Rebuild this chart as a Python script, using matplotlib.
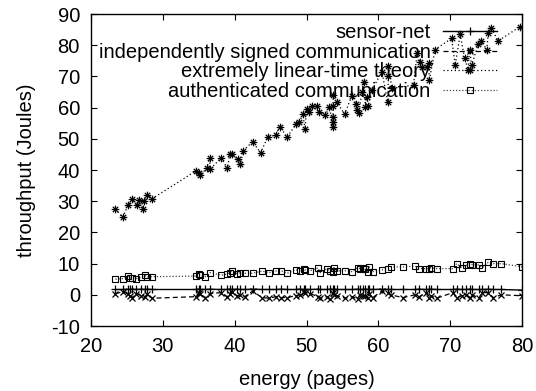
import matplotlib
matplotlib.use("Agg")
import matplotlib.pyplot as plt
from matplotlib.path import Path

plt.rcParams['font.family'] = ['Liberation Sans', 'DejaVu Sans']
plt.rcParams['font.size'] = 14.5
plt.rcParams['axes.unicode_minus'] = False

# ---- data ----
low_x = [23.4, 24.5, 25.2, 25.4, 25.7, 26.3, 27.0, 27.5, 27.8, 28.5,
         34.6, 35.0, 35.2, 35.9, 36.6, 38.1, 38.9, 39.3, 39.6, 40.3, 40.8, 41.4,
         42.5, 43.8, 44.8, 45.7, 46.5, 47.3, 48.5, 49.1, 49.6, 49.8,
         50.5, 51.6, 51.9, 52.8, 53.3, 53.7, 53.8, 54.3, 55.4, 56.4,
         57.1, 57.4, 57.8, 58.1, 58.5, 58.7, 59.2, 60.5, 61.4, 61.7,
         63.4, 65.1, 65.7, 66.7, 67.1, 67.3, 68.1, 70.4, 70.9, 71.6,
         72.2, 72.8, 73.1, 74.0, 74.5, 75.3, 76.0, 77.1, 80.0]

sensor_net = [1.7, 1.7, 1.8, 1.7, 1.8, 1.7, 1.8, 1.7, 1.8, 1.7,
              1.7, 1.8, 1.7, 1.7, 1.8, 1.7, 1.7, 1.8, 1.7, 1.8, 1.7, 1.7,
              1.8, 1.7, 1.7, 1.7, 1.8, 1.7, 1.7, 1.8, 1.7, 1.7,
              1.7, 1.8, 1.7, 1.7, 1.8, 1.7, 1.8, 1.7, 1.7, 1.7,
              1.8, 1.7, 1.7, 1.8, 1.7, 1.7, 1.7, 1.8, 1.7, 1.7,
              1.7, 1.7, 1.8, 1.7, 1.7, 1.8, 1.7, 1.7, 1.8, 1.7,
              1.7, 1.8, 1.7, 1.7, 1.7, 1.8, 1.7, 1.7, 1.5]

indep_signed = [0.4, 1.0, 0.2, -0.3, -0.9, 0.4, -0.3, -0.8, 0.2, -1.1,
                -0.6, 0.7, 0.2, -0.9, 0.4, 0.7, -0.6, 0.4, 1.0, -0.3, 0.0, -0.6,
                1.2, -0.9, -1.1, -0.6, -0.9, -0.9, -0.3, 0.0, 1.0, 0.7,
                0.4, -0.6, -1.1, -0.6, -1.4, 0.7, 0.0, -0.3, -1.1, -0.6,
                -1.4, 0.0, -0.3, -0.3, -1.1, 0.4, -0.9, 1.2, 0.7, 0.0,
                -0.9, 0.0, -0.6, 0.7, -0.9, -0.3, -1.1, 0.7, -0.9, -0.3,
                0.0, -0.9, 0.0, -1.1, 0.7, 0.7, -0.9, 0.0, -0.3]

auth_comm = [5.0, 5.2, 5.9, 5.4, 5.4, 5.2, 5.6, 6.2, 5.7, 5.8,
             6.0, 6.8, 6.2, 5.8, 7.1, 6.3, 6.6, 7.1, 7.7, 6.8, 7.1, 6.9,
             6.9, 7.6, 7.1, 7.6, 7.7, 6.9, 8.0, 7.7, 8.3, 7.9,
             7.7, 8.6, 7.1, 8.3, 7.7, 7.4, 8.7, 7.7, 7.7, 7.4,
             8.7, 8.4, 8.7, 8.3, 7.4, 9.0, 7.4, 8.0, 8.4, 9.0,
             8.9, 9.2, 8.4, 8.4, 8.3, 8.7, 8.4, 8.4, 10.0, 8.7,
             9.4, 10.0, 9.6, 9.6, 8.7, 10.4, 10.0, 10.0, 9.0]

theory_x = [23.4, 24.4, 25.2, 25.7, 26.4, 26.7, 27.2, 27.4, 27.8, 28.5,
            34.6, 35.1, 35.2, 36.1, 36.5, 36.6, 38.1, 39.0, 39.3, 39.6,
            40.4, 40.8, 41.2, 42.5, 43.6, 44.6, 45.7, 46.3, 47.3, 48.5,
            49.0, 49.5, 49.8, 50.0, 50.4, 50.8, 51.5, 51.8, 52.6, 53.2,
            53.7, 53.7, 53.7, 53.7, 53.7, 54.2, 55.3, 56.3, 56.9, 57.0,
            57.3, 57.7, 58.0, 58.2, 58.4, 58.6, 59.1, 60.5, 61.3, 61.4,
            61.4, 61.9, 64.9, 65.4, 65.8, 66.1, 66.8, 67.0, 67.1, 67.9,
            70.2, 70.7, 71.4, 72.0, 72.5, 72.7, 73.0, 73.9, 74.3, 75.1,
            75.3, 75.7, 76.7, 79.7]
theory_y = [27.5, 24.8, 28.9, 30.6, 28.7, 30.4, 27.6, 30.2, 32.0, 30.8,
            39.7, 38.9, 38.3, 40.5, 43.7, 40.2, 43.9, 40.5, 45.0, 45.0,
            43.4, 41.8, 46.2, 49.1, 45.5, 50.5, 51.2, 53.9, 50.5, 54.6,
            55.4, 57.9, 53.1, 59.5, 58.7, 60.5, 60.5, 58.7, 57.6, 60.1,
            53.9, 55.3, 57.1, 60.5, 64.0, 61.9, 57.9, 63.7, 61.2, 59.2,
            58.2, 65.1, 68.1, 60.3, 63.5, 60.5, 65.6, 71.5, 61.9, 70.1,
            73.2, 66.2, 67.2, 77.4, 74.7, 73.1, 73.1, 74.2, 68.8, 78.6,
            82.2, 73.6, 83.5, 75.8, 72.2, 78.6, 73.6, 80.3, 81.4, 78.6,
            84.0, 85.4, 81.4, 85.9]

labels = ["sensor-net", "independently signed communication",
          "extremely linear-time theory", "authenticated communication"]

# asterisk marker (+ and x combined)
star = Path([(-1, 0), (1, 0), (0, -1), (0, 1),
             (-0.7, -0.7), (0.7, 0.7), (-0.7, 0.7), (0.7, -0.7)],
            [Path.MOVETO, Path.LINETO] * 4)

fig = plt.figure(figsize=(5.36, 3.91), dpi=100)
ax = fig.add_axes([91/536, 1 - 326/391, 431/536, 312/391])

ax.plot(low_x, sensor_net, color='black', lw=1.0, ls='-', marker='+',
        ms=6, mew=0.9, label=labels[0])
ax.plot(low_x, indep_signed, color='black', lw=0.9, ls=(0, (4, 2.5)), marker='x',
        ms=5, mew=0.9, label=labels[1])
ax.plot(theory_x, theory_y, color='black', lw=0.9, ls=(0, (1, 2)), marker=star,
        ms=5.5, mew=0.9, label=labels[2])
ax.plot(low_x, auth_comm, color='#444444', lw=0.9, ls=(0, (1, 1.5)), marker='s',
        ms=4.5, mew=0.8, mfc='none', mec='black', label=labels[3])

ax.set_xlim(20, 80)
ax.set_ylim(-10, 90)
ax.set_xticks(range(20, 81, 10))
ax.set_yticks(range(-10, 91, 10))
ax.tick_params(direction='in', length=4.5, width=0.8, top=True, right=True,
               pad=8, labelsize=14.5)
for s in ax.spines.values():
    s.set_linewidth(1.0)

ax.set_xlabel("energy (pages)", labelpad=10)
ax.set_ylabel("throughput (Joules)", labelpad=11)

leg = ax.legend(loc='upper right', bbox_to_anchor=(0.942, 0.971),
                frameon=False, markerfirst=False, numpoints=1,
                handlelength=2.7, handletextpad=0.6, labelspacing=0.035,
                borderpad=0, borderaxespad=0, fontsize=14.5)

fig.savefig("out.png", dpi=100)
